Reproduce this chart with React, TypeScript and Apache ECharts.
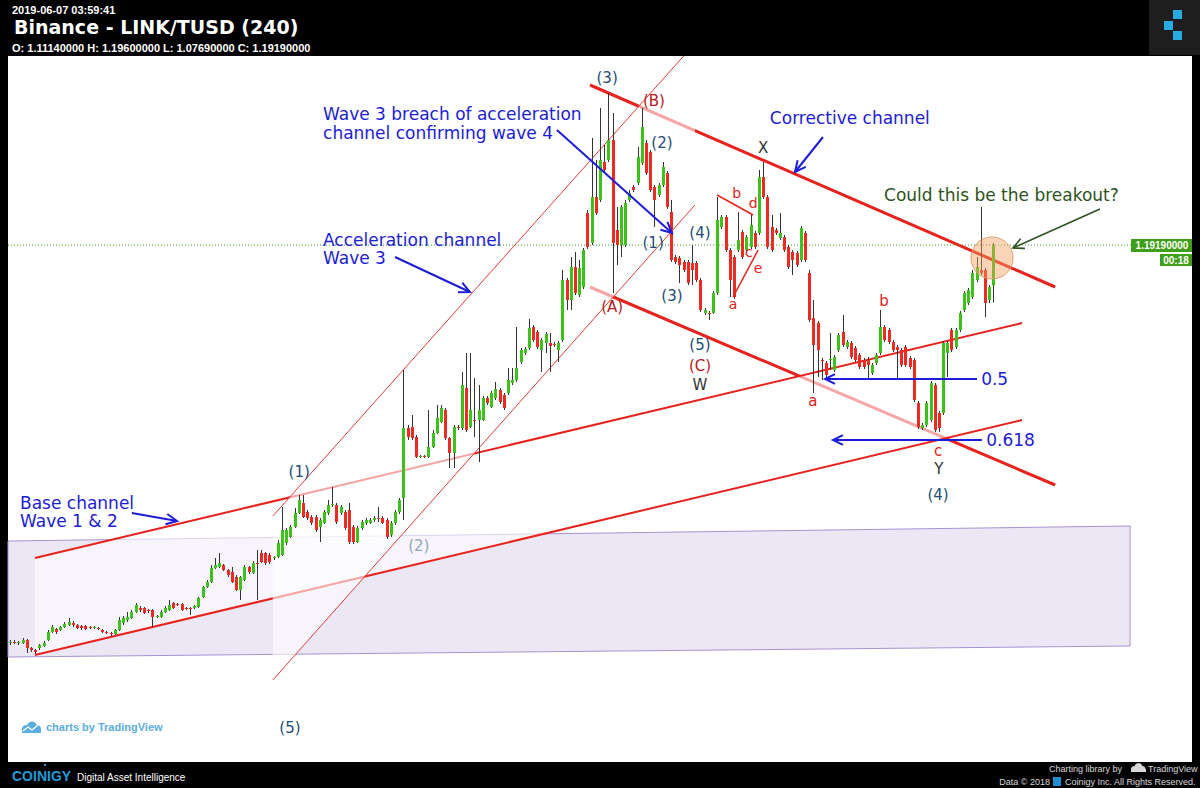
import React, { useEffect, useRef } from 'react';
import * as echarts from 'echarts';

// ---- 4h candles, LINK/TUSD: [open, close, low, high]
const candles: number[][] = [
  // 0-9
  [0.396,0.398,0.392,0.402],[0.398,0.396,0.394,0.402],[0.396,0.398,0.392,0.400],[0.396,0.402,0.394,0.406],[0.402,0.386,0.376,0.404],
  [0.386,0.382,0.378,0.388],[0.382,0.378,0.374,0.384],[0.386,0.392,0.382,0.394],[0.390,0.396,0.388,0.400],[0.402,0.418,0.400,0.422],
  // 10-19
  [0.418,0.428,0.416,0.432],[0.424,0.418,0.414,0.426],[0.422,0.428,0.420,0.430],[0.428,0.434,0.426,0.438],[0.432,0.438,0.430,0.446],
  [0.436,0.432,0.428,0.440],[0.432,0.426,0.424,0.434],[0.430,0.426,0.422,0.432],[0.430,0.424,0.422,0.432],[0.428,0.426,0.424,0.430],
  // 20-29
  [0.426,0.428,0.424,0.430],[0.426,0.424,0.422,0.428],[0.422,0.418,0.416,0.424],[0.418,0.416,0.414,0.420],[0.416,0.414,0.410,0.418],
  [0.414,0.422,0.412,0.424],[0.422,0.442,0.420,0.448],[0.436,0.446,0.432,0.450],[0.442,0.448,0.438,0.458],[0.446,0.458,0.444,0.462],
  // 30-39
  [0.458,0.472,0.456,0.476],[0.466,0.462,0.458,0.470],[0.466,0.456,0.454,0.468],[0.462,0.460,0.456,0.464],[0.462,0.448,0.428,0.464],
  [0.448,0.450,0.446,0.452],[0.448,0.458,0.446,0.462],[0.458,0.466,0.456,0.470],[0.462,0.472,0.460,0.482],[0.476,0.466,0.464,0.478],
  // 40-49
  [0.474,0.472,0.470,0.476],[0.474,0.462,0.460,0.476],[0.466,0.464,0.462,0.468],[0.466,0.464,0.452,0.468],[0.466,0.470,0.464,0.472],
  [0.468,0.486,0.466,0.488],[0.488,0.508,0.486,0.510],[0.508,0.518,0.506,0.522],[0.518,0.546,0.516,0.552],[0.546,0.552,0.544,0.566],
  // 50-59
  [0.548,0.556,0.546,0.576],[0.552,0.542,0.540,0.554],[0.542,0.532,0.528,0.544],[0.538,0.518,0.516,0.548],[0.528,0.502,0.500,0.532],
  [0.502,0.528,0.482,0.530],[0.522,0.548,0.520,0.552],[0.548,0.538,0.534,0.550],[0.536,0.556,0.534,0.560],[0.556,0.554,0.482,0.582],
  // 60-69
  [0.576,0.558,0.556,0.582],[0.576,0.556,0.552,0.578],[0.572,0.558,0.554,0.576],[0.566,0.568,0.562,0.570],[0.568,0.596,0.566,0.602],
  [0.572,0.622,0.570,0.668],[0.596,0.622,0.592,0.626],[0.608,0.628,0.606,0.632],[0.628,0.656,0.626,0.666],[0.656,0.682,0.654,0.692],
  // 70-79
  [0.676,0.648,0.646,0.692],[0.658,0.646,0.642,0.662],[0.648,0.636,0.632,0.652],[0.648,0.622,0.618,0.652],[0.628,0.642,0.598,0.646],
  [0.636,0.658,0.634,0.662],[0.656,0.672,0.652,0.682],[0.672,0.674,0.668,0.708],[0.672,0.638,0.634,0.676],[0.656,0.668,0.652,0.672],
  // 80-89
  [0.658,0.626,0.622,0.662],[0.662,0.598,0.594,0.676],[0.628,0.598,0.594,0.632],[0.598,0.626,0.596,0.630],[0.626,0.638,0.622,0.642],
  [0.636,0.642,0.632,0.646],[0.636,0.642,0.634,0.646],[0.642,0.646,0.638,0.650],[0.646,0.644,0.638,0.668],[0.646,0.636,0.634,0.650],
  // 90-99
  [0.642,0.608,0.604,0.646],[0.612,0.636,0.608,0.640],[0.636,0.658,0.632,0.662],[0.658,0.682,0.654,0.686],[0.686,0.826,0.642,0.942],
  [0.826,0.808,0.802,0.832],[0.828,0.806,0.802,0.852],[0.808,0.768,0.766,0.812],[0.768,0.770,0.766,0.772],[0.770,0.768,0.766,0.772],
  // 100-109
  [0.768,0.788,0.766,0.862],[0.788,0.816,0.786,0.822],[0.816,0.846,0.814,0.872],[0.838,0.866,0.836,0.872],[0.862,0.806,0.802,0.866],
  [0.806,0.776,0.746,0.808],[0.776,0.828,0.746,0.832],[0.828,0.826,0.822,0.832],[0.826,0.912,0.822,0.938],[0.906,0.822,0.818,0.976],
  // 110-119
  [0.828,0.862,0.826,0.976],[0.842,0.840,0.808,0.926],[0.842,0.862,0.758,0.912],[0.842,0.886,0.840,0.890],[0.886,0.876,0.872,0.890],
  [0.868,0.896,0.866,0.900],[0.886,0.904,0.882,0.918],[0.902,0.878,0.874,0.906],[0.892,0.866,0.862,0.896],[0.896,0.922,0.892,0.946],
  // 120-129
  [0.916,0.922,0.912,0.946],[0.922,0.946,0.918,1.028],[0.958,0.982,0.954,0.986],[0.976,0.984,0.972,0.988],[0.986,1.026,0.982,1.044],
  [1.028,1.002,0.998,1.032],[1.018,0.988,0.984,1.022],[0.982,1.002,0.938,1.006],[0.996,1.014,0.976,1.018],[0.996,0.990,0.938,1.016],
  // 130-139
  [0.994,0.992,0.988,0.998],[0.982,0.996,0.958,1.000],[1.002,1.122,0.998,1.142],[1.122,1.082,1.062,1.126],[1.082,1.148,1.062,1.168],
  [1.148,1.096,1.092,1.178],[1.092,1.146,1.088,1.162],[1.108,1.182,1.104,1.186],[1.256,1.188,1.184,1.262],[1.196,1.288,1.192,1.406],
  // 140-149
  [1.288,1.256,1.252,1.362],[1.282,1.362,1.278,1.466],[1.358,1.342,1.338,1.392],[1.362,1.402,1.358,1.496],[1.402,1.196,1.096,1.456],
  [1.222,1.192,1.152,1.268],[1.192,1.268,1.168,1.272],[1.192,1.276,1.188,1.282],[1.282,1.296,1.278,1.302],[1.308,1.302,1.298,1.312],
  // 150-159
  [1.316,1.368,1.312,1.388],[1.356,1.428,1.352,1.466],[1.396,1.336,1.332,1.402],[1.378,1.302,1.298,1.382],[1.308,1.282,1.228,1.312],
  [1.292,1.312,1.288,1.316],[1.312,1.348,1.308,1.358],[1.336,1.268,1.264,1.340],[1.258,1.162,1.158,1.282],[1.168,1.158,1.154,1.172],
  // 160-169
  [1.166,1.152,1.116,1.170],[1.158,1.142,1.138,1.162],[1.158,1.116,1.112,1.162],[1.156,1.142,1.112,1.192],[1.156,1.122,1.118,1.160],
  [1.122,1.062,1.058,1.126],[1.056,1.062,1.052,1.066],[1.056,1.054,1.042,1.060],[1.056,1.096,1.054,1.100],[1.096,1.242,1.092,1.288],
  // 170-179
  [1.228,1.248,1.224,1.252],[1.248,1.182,1.178,1.252],[1.182,1.122,1.088,1.186],[1.168,1.088,1.084,1.172],[1.182,1.202,1.178,1.258],
  [1.218,1.168,1.164,1.222],[1.182,1.208,1.178,1.212],[1.188,1.232,1.184,1.252],[1.216,1.188,1.184,1.220],[1.216,1.328,1.212,1.342],
  // 180-189
  [1.328,1.288,1.284,1.358],[1.288,1.188,1.184,1.292],[1.228,1.182,1.178,1.252],[1.222,1.216,1.212,1.226],[1.206,1.216,1.202,1.256],
  [1.208,1.182,1.178,1.212],[1.188,1.148,1.144,1.192],[1.178,1.162,1.132,1.182],[1.176,1.152,1.148,1.180],[1.162,1.226,1.158,1.230],
  // 190-199
  [1.216,1.162,1.158,1.220],[1.136,1.042,1.038,1.142],[1.046,0.992,0.896,1.082],[1.036,0.982,0.928,1.040],[0.962,0.960,0.922,0.966],
  [0.956,0.932,0.926,0.960],[0.962,0.964,0.942,1.016],[0.942,0.968,0.938,0.972],[0.982,1.012,0.978,1.016],[1.018,0.992,0.988,1.052],
  // 200-209
  [0.988,0.998,0.984,1.002],[0.996,0.968,0.964,1.000],[0.986,0.962,0.958,0.990],[0.972,0.948,0.944,0.976],[0.962,0.948,0.944,0.966],
  [0.962,0.952,0.926,0.968],[0.936,0.952,0.932,0.956],[0.956,0.972,0.952,0.976],[0.976,1.028,0.972,1.062],[1.028,1.002,0.998,1.032],
  // 210-219
  [1.022,0.998,0.994,1.026],[0.998,0.982,0.978,1.002],[0.988,0.982,0.926,0.992],[0.982,0.952,0.948,0.986],[0.988,0.952,0.948,0.992],
  [0.966,0.948,0.944,0.970],[0.962,0.882,0.878,0.966],[0.876,0.828,0.824,0.880],[0.826,0.832,0.822,0.836],[0.832,0.876,0.828,0.880],
  // 220-229
  [0.842,0.916,0.838,0.920],[0.912,0.822,0.818,0.916],[0.856,0.826,0.818,0.860],[0.856,0.996,0.852,1.000],[0.976,0.996,0.928,1.000],
  [1.022,0.982,0.978,1.026],[0.988,1.022,0.984,1.026],[1.022,1.056,1.018,1.060],[1.062,1.096,1.058,1.100],[1.076,1.102,1.072,1.106],
  // 230-235
  [1.088,1.136,1.084,1.142],[1.122,1.148,1.118,1.168],[1.142,1.136,1.132,1.268],[1.142,1.076,1.048,1.146],[1.082,1.108,1.076,1.112],
  [1.1114,1.1919,1.0769,1.196],
];

const lastPrice = 1.1919;
const lastPriceText = '1.19190000';
const countdownText = '00:18';
const headerTime = '2019-06-07 03:59:41';
const headerTitle = 'Binance - LINK/TUSD (240)';
const headerOHLC = 'O: 1.11140000 H: 1.19600000 L: 1.07690000 C: 1.19190000';

// ---- drawings, anchored as [bar index, price]
const zoneBox = [[-0.5, 0.600], [267.7, 0.630], [267.7, 0.390], [-0.5, 0.368]];
const baseUpper = [[5.95, 0.566], [241.9, 1.036]];
const baseLower = [[5.95, 0.372], [241.9, 0.842]];
const accelUpper = [[62.8, 0.650], [161.0, 1.570]];
const accelLower = [[62.8, 0.322], [163.7, 1.272]];
const accelTop = [163.7, 1.570];
const corrUpper = [[138.6, 1.512], [249.8, 1.108]];
const corrLower = [[138.6, 1.108], [249.8, 0.712]];
const triUpper = [[169.0, 1.292], [177.6, 1.252]];
const triLower = [[172.8, 1.088], [178.8, 1.182]];
const priceLineEnd = 267.9;
const breakoutCircle = [234.7, 1.166];

const fibText = ['0.5', '0.618'];
const fibPrice = [0.924, 0.802];
const fibFrom = [231.1, 232.3];
const fibTo = [194.8, 196.7];
const fibTextBar = [232.1, 233.3];

const noteText = ['Wave 3 breach of acceleration', 'channel confirming wave 4', 'Corrective channel', 'Acceleration channel', 'Wave 3', 'Base channel', 'Wave 1 & 2', 'Could this be the breakout?'];
const noteBar = [74.8, 74.8, 181.6, 74.8, 74.8, 2.37, 2.37, 208.9];
const notePrice = [1.454, 1.416, 1.446, 1.202, 1.166, 0.676, 0.640, 1.292];
const noteKind = ['b', 'b', 'b', 'b', 'b', 'b', 'b', 'g'];

const calloutFrom = [[130.7, 1.422], [194.3, 1.408], [92.0, 1.168], [29.1, 0.656], [260.5, 1.264]];
const calloutTo = [[158.2, 1.216], [187.6, 1.338], [109.9, 1.098], [39.9, 0.640], [239.7, 1.186]];
const calloutKind = ['b', 'b', 'b', 'b', 'g'];

const labelText = ['(3)', '(B)', '(2)', '(1)', '(4)', '(3)', '(A)', '(5)', '(C)', 'W', 'X', 'b', 'd', 'c', 'e', 'a', 'b', 'a', 'c', 'Y', '(4)', '(1)', '(2)', '(5)'];
const labelBar = [142.7, 153.9, 155.8, 153.7, 164.9, 158.2, 143.9, 164.9, 164.9, 164.9, 180.0, 173.7, 177.6, 176.6, 178.8, 172.8, 208.9, 191.9, 221.8, 222.0, 221.8, 69.1, 97.7, 66.9];
const labelPrice = [1.526, 1.480, 1.396, 1.196, 1.216, 1.090, 1.068, 0.992, 0.950, 0.912, 1.386, 1.296, 1.276, 1.178, 1.146, 1.074, 1.080, 0.880, 0.780, 0.744, 0.692, 0.738, 0.590, 0.226];
const labelKind = ['w', 'C', 'w', 'w', 'w', 'w', 'C', 'w', 'C', 'x', 'x', 's', 's', 's', 's', 's', 's', 's', 's', 'x', 'w', 'w', 'g', 'w'];

// ---- styles
const GREEN = '#3cc21b';
const RED = '#ef2a22';
const WICK = '#333333';
const LINE_RED = '#e8221c';
const BLUE = '#1c1cd9';
const DARK_GREEN = '#2e5320';
const FONT = '"DejaVu Sans", Verdana, sans-serif';
const ARIAL = '"Liberation Sans", Arial, sans-serif';
const labelColor: Record<string, string> = { w: '#234d78', C: '#b3201e', x: '#333333', s: '#e3201b', g: '#8ea5bd' };

function seg(api: any, a: number[], b: number[], style: any) {
  const p = api.coord(a);
  const q = api.coord(b);
  return { type: 'line', shape: { x1: p[0], y1: p[1], x2: q[0], y2: q[1] }, style };
}

function arrow(api: any, a: number[], b: number[], color: string, width: number, head: number) {
  const p = api.coord(a);
  const q = api.coord(b);
  const ang = Math.atan2(q[1] - p[1], q[0] - p[0]);
  const h1 = [q[0] - head * Math.cos(ang - 0.45), q[1] - head * Math.sin(ang - 0.45)];
  const h2 = [q[0] - head * Math.cos(ang + 0.45), q[1] - head * Math.sin(ang + 0.45)];
  return [
    { type: 'line', shape: { x1: p[0], y1: p[1], x2: q[0], y2: q[1] }, style: { stroke: color, lineWidth: width } },
    { type: 'polyline', shape: { points: [h1, q, h2] }, style: { stroke: color, lineWidth: width, fill: 'none' } },
  ];
}

function layer(z: number, draw: (api: any) => any[]) {
  return {
    type: 'custom',
    z,
    silent: true,
    data: [[0, 1]],
    encode: { x: 0, y: 1 },
    renderItem: (_p: any, api: any) => ({ type: 'group', children: draw(api) }),
  };
}

function buildOption() {
  const candleData = candles.map((c, i) => [i, c[0], c[1], c[2], c[3]]);
  const labelData = labelText.map((_, i) => [labelBar[i], labelPrice[i]]);
  const noteData = noteText.map((_, i) => [noteBar[i], notePrice[i]]);

  const series: any[] = [
    layer(1, (api) => [
      { type: 'polygon', shape: { points: zoneBox.map((p) => api.coord(p)) }, style: { fill: '#ebe7f4', stroke: '#a992d0', lineWidth: 1 } },
    ]),
    layer(2, (api) => [
      seg(api, corrUpper[0], corrUpper[1], { stroke: LINE_RED, lineWidth: 3 }),
      seg(api, corrLower[0], corrLower[1], { stroke: LINE_RED, lineWidth: 3 }),
    ]),
    layer(3, (api) => [
      { type: 'polygon', shape: { points: [baseUpper[0], baseUpper[1], baseLower[1], baseLower[0]].map((p) => api.coord(p)) }, style: { fill: 'rgba(255,255,255,0.6)' } },
    ]),
    layer(4, (api) => [
      seg(api, baseUpper[0], baseUpper[1], { stroke: LINE_RED, lineWidth: 2 }),
      seg(api, baseLower[0], baseLower[1], { stroke: LINE_RED, lineWidth: 2 }),
    ]),
    layer(5, (api) => [
      { type: 'polygon', shape: { points: [accelUpper[0], accelUpper[1], accelTop, accelLower[1], accelLower[0]].map((p) => api.coord(p)) }, style: { fill: 'rgba(255,255,255,0.6)' } },
    ]),
    layer(6, (api) => [
      seg(api, accelUpper[0], accelUpper[1], { stroke: '#ea3c36', lineWidth: 1 }),
      seg(api, accelLower[0], accelLower[1], { stroke: '#ea3c36', lineWidth: 1 }),
      seg(api, [-0.5, lastPrice], [priceLineEnd, lastPrice], { stroke: '#3f9e1a', lineWidth: 1, lineDash: [1, 2] }),
    ]),
    {
      type: 'custom',
      z: 7,
      silent: true,
      data: candleData,
      encode: { x: 0, y: [1, 2, 3, 4] },
      renderItem: (_p: any, api: any) => {
        const i = api.value(0);
        const o = api.value(1);
        const c = api.value(2);
        const l = api.value(3);
        const h = api.value(4);
        const pO = api.coord([i, o]);
        const pC = api.coord([i, c]);
        const pL = api.coord([i, l]);
        const pH = api.coord([i, h]);
        const x = Math.round(pO[0]) + 0.5;
        const top = Math.min(pO[1], pC[1]);
        const hgt = Math.max(1, Math.abs(pO[1] - pC[1]));
        return {
          type: 'group',
          children: [
            { type: 'line', shape: { x1: x, y1: pH[1], x2: x, y2: pL[1] }, style: { stroke: WICK, lineWidth: 1 } },
            { type: 'rect', shape: { x: x - 1.5, y: top, width: 3, height: hgt }, style: { fill: c >= o ? GREEN : RED } },
          ],
        };
      },
    },
    layer(8, (api) => {
      const cc = api.coord(breakoutCircle);
      return [
        seg(api, triUpper[0], triUpper[1], { stroke: LINE_RED, lineWidth: 1.5 }),
        seg(api, triLower[0], triLower[1], { stroke: LINE_RED, lineWidth: 1.5 }),
        { type: 'circle', shape: { cx: cc[0], cy: cc[1], r: 21 }, style: { fill: 'rgba(244,160,96,0.45)', stroke: '#dca070', lineWidth: 1 } },
      ];
    }),
    layer(9, (api) => {
      const out: any[] = [];
      fibText.forEach((_, i) => {
        out.push(...arrow(api, [fibFrom[i], fibPrice[i]], [fibTo[i], fibPrice[i]], BLUE, 2, 11));
      });
      calloutFrom.forEach((f, i) => {
        const col = calloutKind[i] === 'g' ? DARK_GREEN : BLUE;
        out.push(...arrow(api, f, calloutTo[i], col, calloutKind[i] === 'g' ? 1.6 : 2, 12));
      });
      return out;
    }),
    {
      type: 'custom',
      z: 10,
      silent: true,
      data: labelData,
      encode: { x: 0, y: 1 },
      renderItem: (params: any, api: any) => {
        const k = params.dataIndex;
        const p = api.coord([api.value(0), api.value(1)]);
        const small = labelKind[k] === 's' && k >= 11 && k <= 15;
        return {
          type: 'text',
          x: p[0],
          y: p[1],
          style: { text: labelText[k], fill: labelColor[labelKind[k]], font: `${small ? 14 : 15}px ${FONT}`, align: 'center', verticalAlign: 'middle' },
        };
      },
    },
    {
      type: 'custom',
      z: 10,
      silent: true,
      data: noteData,
      encode: { x: 0, y: 1 },
      renderItem: (params: any, api: any) => {
        const k = params.dataIndex;
        const p = api.coord([api.value(0), api.value(1)]);
        return {
          type: 'text',
          x: p[0],
          y: p[1],
          style: { text: noteText[k], fill: noteKind[k] === 'g' ? DARK_GREEN : BLUE, font: `17px ${FONT}`, align: 'left', verticalAlign: 'middle' },
        };
      },
    },
    layer(10, (api) => {
      return fibText.map((t, i) => {
        const p = api.coord([fibTextBar[i], fibPrice[i]]);
        return { type: 'text', x: p[0], y: p[1], style: { text: t, fill: BLUE, font: `17px ${FONT}`, align: 'left', verticalAlign: 'middle' } };
      });
    }),
  ];

  const graphic: any[] = [
    { type: 'text', x: 12, y: 4, style: { text: headerTime, fill: '#ffffff', font: `bold 11px ${ARIAL}` } },
    { type: 'text', x: 14, y: 17, style: { text: headerTitle, fill: '#ffffff', font: `bold 19px ${FONT}` } },
    { type: 'text', x: 12, y: 42, style: { text: headerOHLC, fill: '#ffffff', font: `bold 11px ${ARIAL}` } },
    { type: 'rect', shape: { x: 1149, y: 0, width: 51, height: 55 }, style: { fill: '#1e1e1e' } },
    { type: 'rect', shape: { x: 1173, y: 10, width: 9, height: 9 }, style: { fill: '#27a9e1' } },
    { type: 'rect', shape: { x: 1164, y: 21, width: 9, height: 9 }, style: { fill: '#27a9e1' } },
    { type: 'rect', shape: { x: 1173, y: 31, width: 9, height: 9 }, style: { fill: '#27a9e1' } },
    // last price tag
    { type: 'rect', shape: { x: 1131, y: 239, width: 61, height: 13 }, style: { fill: '#3f9e1a' } },
    { type: 'text', x: 1162, y: 245.5, style: { text: lastPriceText, fill: '#ffffff', font: `bold 10px ${ARIAL}`, align: 'center', verticalAlign: 'middle' } },
    { type: 'rect', shape: { x: 1160, y: 254, width: 32, height: 12 }, style: { fill: '#3f9e1a' } },
    { type: 'text', x: 1176, y: 260, style: { text: countdownText, fill: '#ffffff', font: `bold 10px ${ARIAL}`, align: 'center', verticalAlign: 'middle' } },
    // charts by TradingView
    { type: 'circle', shape: { cx: 26, cy: 729, r: 4 }, style: { fill: '#5aaee0' } },
    { type: 'circle', shape: { cx: 32, cy: 726.5, r: 5 }, style: { fill: '#5aaee0' } },
    { type: 'circle', shape: { cx: 37, cy: 729, r: 4 }, style: { fill: '#5aaee0' } },
    { type: 'rect', shape: { x: 22, y: 729, width: 19, height: 4 }, style: { fill: '#5aaee0' } },
    { type: 'polyline', shape: { points: [[23, 731], [28, 727], [32, 730], [38, 725]] }, style: { stroke: '#ffffff', lineWidth: 1.2, fill: 'none' } },
    { type: 'text', x: 46, y: 727, style: { text: 'charts by TradingView', fill: '#5aaee0', font: `bold 11px ${ARIAL}`, verticalAlign: 'middle' } },
    // footer
    { type: 'text', x: 12, y: 776, style: { text: 'COINIGY', fill: '#1e9bd7', font: `bold 14px ${ARIAL}`, verticalAlign: 'middle' } },
    { type: 'rect', shape: { x: 44, y: 764, width: 2, height: 2 }, style: { fill: '#1e9bd7' } },
    { type: 'text', x: 77, y: 777, style: { text: 'Digital Asset Intelligence', fill: '#ffffff', font: `10px ${ARIAL}`, verticalAlign: 'middle' } },
    { type: 'text', x: 1122, y: 768.5, style: { text: 'Charting library by', fill: '#d8d8d8', font: `9px ${ARIAL}`, align: 'right', verticalAlign: 'middle' } },
    { type: 'circle', shape: { cx: 1134, cy: 769, r: 3 }, style: { fill: '#d8d8d8' } },
    { type: 'circle', shape: { cx: 1138.5, cy: 767, r: 4 }, style: { fill: '#d8d8d8' } },
    { type: 'circle', shape: { cx: 1142.5, cy: 769, r: 3 }, style: { fill: '#d8d8d8' } },
    { type: 'rect', shape: { x: 1131, y: 769, width: 15, height: 3 }, style: { fill: '#d8d8d8' } },
    { type: 'text', x: 1148, y: 768.5, style: { text: 'TradingView', fill: '#d8d8d8', font: `9px ${ARIAL}`, verticalAlign: 'middle' } },
    { type: 'text', x: 1050, y: 781.5, style: { text: 'Data © 2018', fill: '#d8d8d8', font: `9px ${ARIAL}`, align: 'right', verticalAlign: 'middle' } },
    { type: 'rect', shape: { x: 1053, y: 777, width: 8, height: 9 }, style: { fill: '#1d8fd0' } },
    { type: 'text', x: 1065, y: 781.5, style: { text: 'Coinigy Inc. All Rights Reserved.', fill: '#d8d8d8', font: `9px ${ARIAL}`, verticalAlign: 'middle' } },
  ];

  return {
    animation: false,
    backgroundColor: '#000000',
    grid: { left: 8, right: 8, top: 56, bottom: 26, show: true, backgroundColor: '#ffffff', borderWidth: 0 },
    xAxis: { type: 'value', min: -0.5, max: 282.5, show: false },
    yAxis: { type: 'value', min: 0.158, max: 1.57, show: false, scale: true },
    tooltip: { show: false },
    series,
    graphic,
  };
}

export default function App() {
  const ref = useRef<HTMLDivElement>(null);
  useEffect(() => {
    document.body.style.margin = '0';
    const chart = echarts.init(ref.current as HTMLDivElement, null, { renderer: 'svg' });
    chart.setOption(buildOption() as any);
    return () => chart.dispose();
  }, []);
  return (
    <div style={{ position: 'fixed', left: 0, top: 0, width: 1200, height: 788, background: '#000', overflow: 'hidden' }}>
      <div ref={ref} style={{ width: 1200, height: 788 }} />
    </div>
  );
}
